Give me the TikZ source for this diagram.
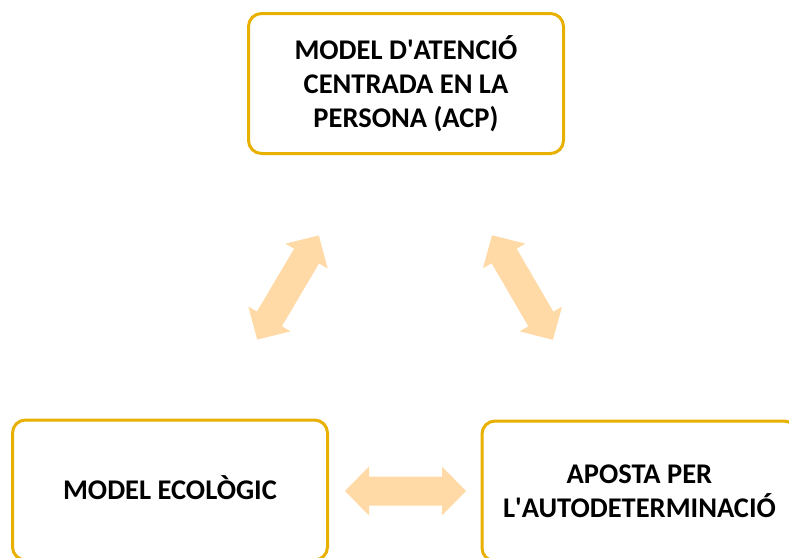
\documentclass[tikz,border=0pt]{standalone}
\usepackage{fontspec}
\setmainfont{Carlito}
\definecolor{gold}{RGB}{232,176,0}
\definecolor{peach}{RGB}{255,218,166}
\begin{document}
\begin{tikzpicture}[x=1pt,y=-1pt,
  box/.style={draw=gold, line width=3pt, rounded corners=13pt, fill=white,
    align=center, inner sep=0pt, minimum width=315pt, minimum height=140pt,
    font=\fontsize{28.5}{34}\selectfont\bfseries},
  dblarrow/.pic={\fill[peach] (-60.5,0) -- (-36.5,24.5) -- (-36.5,14.5) -- (36.5,14.5)
    -- (36.5,24.5) -- (60.5,0) -- (36.5,-24.5) -- (36.5,-14.5) -- (-36.5,-14.5)
    -- (-36.5,-24.5) -- cycle;}]
\useasboundingbox (0,0) rectangle (789,557);
\node[box] (acp) at (406,83.5)
  {MODEL D\textquotesingle{}ATENCIÓ\\CENTRADA EN LA\\PERSONA (ACP)};
\node[box, text height=18.5pt, text depth=0pt] (eco) at (170,490)
  {MODEL ECOLÒGIC};
\node[box] (auto) at (639.5,491)
  {APOSTA PER\\L\textquotesingle{}AUTODETERMINACIÓ};
\coordinate (a1) at (288,287.5);
\coordinate (a2) at (522.5,287.5);
\coordinate (a3) at (405.5,491);
\pic[rotate=59.4] at (a1) {dblarrow};
\pic[rotate=-59.8] at (a2) {dblarrow};
\pic at (a3) {dblarrow};
\end{tikzpicture}
\end{document}
